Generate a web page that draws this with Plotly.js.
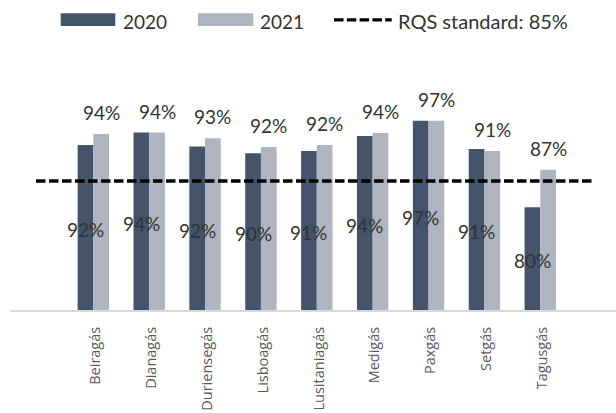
<!DOCTYPE html>
<html>
<head>
<meta charset="utf-8">
<script src="https://cdn.plot.ly/plotly-3.0.1.min.js"></script>
<style>
  html, body { margin: 0; padding: 0; background: #fff; }
  #chart { width: 616px; height: 413px; }
</style>
</head>
<body>
<div id="chart"></div>
<script>
// ---- Data ----
const categories = ["Beiragás", "Dianagás", "Duriensegás", "Lisboagás", "Lusitaniagás", "Medigás", "Paxgás", "Setgás", "Tagusgás"];
const values2020 = [92.0, 94.4, 91.7, 90.4, 90.8, 93.7, 96.7, 91.2, 79.9];
const values2021 = [94.1, 94.4, 93.3, 91.6, 92.0, 94.3, 96.7, 90.8, 87.2];
const seriesNames = ["2020", "2021"];
const rqsStandard = 85;
const rqsLabel = "RQS standard: 85%";
const axisMin = 60;

// ---- Style ----
const C2020 = "#44546a";
const C2021 = "#afb4c1";
const TXT = "#333333";
const LABEL_FONT = { family: "Lato, 'Open Sans', sans-serif", size: 19, color: TXT };

// plot area in pixels (for legend placement)
const PL = 10, PR = 616, PT = 60, PB = 310;
const px = x => (x - PL) / (PR - PL);
const py = y => (PB - y) / (PB - PT);

const bargap = 0.438;
const barW = (1 - bargap) / 2;

const traces = [
  { type: "bar", name: seriesNames[0], x: categories, y: values2020,
    marker: { color: C2020, line: { width: 0 } }, hoverinfo: "x+y" },
  { type: "bar", name: seriesNames[1], x: categories, y: values2021,
    marker: { color: C2021, line: { width: 0 } }, hoverinfo: "x+y" }
];

const annotations = [];
categories.forEach((c, i) => {
  annotations.push({
    xref: "x", yref: "y", x: i - barW / 2, y: (axisMin + values2020[i]) / 2,
    text: Math.round(values2020[i]) + "%", showarrow: false,
    xanchor: "center", yanchor: "middle", yshift: -2, font: LABEL_FONT
  });
  annotations.push({
    xref: "x", yref: "y", x: i + barW / 2, y: values2021[i],
    text: Math.round(values2021[i]) + "%", showarrow: false,
    xanchor: "center", yanchor: "bottom", yshift: 8, font: LABEL_FONT
  });
});

// custom legend
const LEG_FONT = { family: "Lato, 'Open Sans', sans-serif", size: 19, color: TXT };
annotations.push(
  { xref: "paper", yref: "paper", x: px(121), y: py(21), text: seriesNames[0], showarrow: false,
    xanchor: "left", yanchor: "middle", font: LEG_FONT },
  { xref: "paper", yref: "paper", x: px(258), y: py(21), text: seriesNames[1], showarrow: false,
    xanchor: "left", yanchor: "middle", font: LEG_FONT },
  { xref: "paper", yref: "paper", x: px(395.5), y: py(21), text: rqsLabel, showarrow: false,
    xanchor: "left", yanchor: "middle", font: { family: LEG_FONT.family, size: 20, color: TXT } }
);

const shapes = [
  { type: "line", xref: "paper", yref: "y", x0: px(36), x1: px(591.7), y0: rqsStandard, y1: rqsStandard,
    line: { color: "#000000", width: 3.3, dash: "9.5px,3.5px" } },
  { type: "rect", xref: "paper", yref: "paper", x0: px(60.7), x1: px(115.3), y0: py(26), y1: py(13.3),
    fillcolor: C2020, line: { width: 0 } },
  { type: "rect", xref: "paper", yref: "paper", x0: px(198), x1: px(253.3), y0: py(26), y1: py(13.3),
    fillcolor: C2021, line: { width: 0 } },
  { type: "line", xref: "paper", yref: "paper", x0: px(334), x1: px(391.7), y0: py(19.8), y1: py(19.8),
    line: { color: "#000000", width: 3.3, dash: "9.5px,3.3px" } }
];

const layout = {
  width: 616, height: 413,
  margin: { l: PL, r: 616 - PR, t: PT, b: 413 - PB },
  paper_bgcolor: "#ffffff", plot_bgcolor: "#ffffff",
  barmode: "group", bargap: bargap, bargroupgap: 0,
  showlegend: false,
  xaxis: {
    type: "category", range: [-1.491, 9.355],
    showline: true, linecolor: "#d9d9d9", linewidth: 2,
    ticks: "", tickangle: -90, ticklabelstandoff: 9, ticklabelshift: 2,
    tickfont: { family: "'Open Sans', sans-serif", size: 14.5, color: "#595959" },
    showgrid: false, zeroline: false, fixedrange: true
  },
  yaxis: { range: [axisMin, 108.45], visible: false, showgrid: false, zeroline: false, fixedrange: true },
  annotations: annotations,
  shapes: shapes
};

Plotly.newPlot("chart", traces, layout, { displayModeBar: false, staticPlot: true });
</script>
</body>
</html>
